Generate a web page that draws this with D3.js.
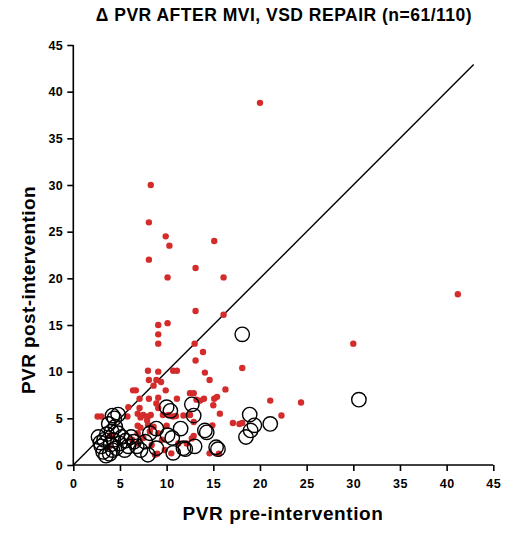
<!DOCTYPE html>
<html><head><meta charset="utf-8">
<script src="https://cdn.jsdelivr.net/npm/d3@7"></script>
<style>body{margin:0;background:#fff}svg{display:block}text{font-family:Arial,"Liberation Sans",sans-serif;font-weight:bold}</style>
</head><body>
<script>
const title = "\u0394 PVR AFTER MVI, VSD REPAIR (n=61/110)";
const xLabel = "PVR pre-intervention";
const yLabel = "PVR post-intervention";
const xTicks = [0,5,10,15,20,25,30,35,40,45];
const yTicks = [0,5,10,15,20,25,30,35,40,45];
const identityLine = [[0,0],[42.9,42.9]];
// MVI patients (red filled dots): [pre, post]
const mviPoints = [
[20.0,38.8],[8.3,30.0],[8.1,26.0],[9.9,24.5],[10.3,23.5],[15.1,24.0],[8.1,22.0],[13.1,21.1],[10.1,20.1],[16.1,20.1],
[41.2,18.3],[13.1,16.5],[16.1,16.1],[10.1,15.2],[9.1,15.0],[9.1,14.0],[9.1,13.0],[13.0,13.0],[30.0,13.0],[13.9,12.1],
[13.1,11.2],[18.1,10.4],[8.0,10.1],[9.1,10.0],[10.7,10.1],[11.1,10.1],[14.1,9.9],[14.6,9.1],[8.1,9.1],[8.9,9.1],
[9.4,8.9],[8.6,8.5],[16.3,8.1],[6.4,8.0],[6.7,8.0],[9.9,8.0],[12.5,7.7],[12.9,7.7],[7.1,7.1],[8.1,7.1],
[9.1,7.2],[11.1,7.1],[13.2,7.0],[13.6,6.9],[14.0,7.1],[15.1,7.1],[15.4,7.3],[21.1,6.9],[24.4,6.7],[15.0,6.4],
[5.9,6.2],[7.1,6.1],[8.9,6.6],[9.1,6.1],[2.6,5.2],[3.0,5.2],[5.8,5.2],[6.9,5.5],[7.2,5.1],[7.5,5.35],[8.0,5.2],
[8.3,5.35],[9.6,5.35],[10.2,5.35],[10.7,5.2],[11.0,5.25],[11.8,5.3],[12.5,5.35],[15.7,5.5],[22.3,5.3],
[7.9,4.8],[12.9,4.6],[6.9,4.2],[7.2,4.0],[8.0,4.3],[8.6,4.1],[10.0,4.2],[14.9,4.25],[17.1,4.5],[17.8,4.4],[18.1,4.5],
[6.9,3.4],[8.2,3.6],[9.1,3.4],[4.0,3.2],[12.9,3.1],[7.5,2.9],[12.7,2.85],[9.5,2.7],
[3.9,2.0],[6.3,2.7],[6.9,2.3],[8.4,2.15],[11.25,2.3],[12.15,2.3],[9.8,1.6],
[8.75,1.1],[9.0,1.2],[10.5,1.25],[14.6,1.25],[15.6,1.2]
];
// VSD patients (open circles): [pre, post]
const vsdPoints = [
[18.1,14.0],[30.6,7.0],[12.7,6.5],[10.0,6.2],[10.4,5.8],[12.9,5.3],[18.9,5.4],[19.4,4.25],[21.1,4.4],[19.0,3.7],
[18.5,3.0],[14.1,3.7],[14.3,3.5],[11.5,3.9],[13.0,2.0],[12.0,1.7],[15.3,1.9],[15.5,1.7],[4.2,5.3],[4.8,5.4],
[4.4,5.0],[4.5,4.1],[4.1,3.6],[2.7,3.0],[3.3,2.7],[3.0,2.0],[3.2,1.4],[3.9,1.2],[4.6,1.8],[5.0,2.3],
[4.3,2.7],[5.2,3.0],[5.9,2.0],[6.2,3.0],[6.8,2.0],[7.2,1.6],[8.0,1.1],[8.2,3.4],[8.9,3.9],[10.1,3.2],
[10.6,2.9],[10.7,1.3],[11.8,1.8],[8.9,1.8],[7.7,2.5],[3.6,3.3],[4.0,2.2],[5.5,1.6],[6.5,2.5],[3.5,1.0],
[4.8,3.4],[5.6,2.6],[3.8,4.4],[2.9,2.4],[4.2,1.6]
];

const W = 505, H = 536;
const svg = d3.select("body").append("svg").attr("width", W).attr("height", H);
const x = d3.scaleLinear().domain([0,45]).range([73.3,493.3]);
const y = d3.scaleLinear().domain([0,45]).range([465,45]);

svg.append("text").attr("x", 284).attr("y", 21).attr("text-anchor","middle")
  .style("font-size","17.5px").style("letter-spacing","0.5px").text(title);

const xa = svg.append("g").attr("transform",`translate(0,${y(0)})`)
  .call(d3.axisBottom(x).tickValues(xTicks).tickSize(6).tickPadding(4).tickFormat(d3.format("d")));
const ya = svg.append("g").attr("transform",`translate(${x(0)},0)`)
  .call(d3.axisLeft(y).tickValues(yTicks).tickSize(6).tickPadding(4).tickFormat(d3.format("d")));
[xa,ya].forEach(a=>{
  a.select(".domain").attr("stroke","#000").attr("stroke-width",1.6);
  a.selectAll(".tick line").attr("stroke","#000").attr("stroke-width",1.6);
  a.selectAll(".tick text").attr("fill","#000").style("font-size","12.5px").style("font-family","Arial,'Liberation Sans',sans-serif").style("font-weight","bold").style("letter-spacing","0.5px");
});
xa.selectAll(".tick text").attr("dy","1em");
xa.select(".domain").attr("d", `M${x(0)},0H${x(45)}`);
ya.select(".domain").attr("d", `M0,${y(45)}V${y(0)}`);

svg.append("line")
  .attr("x1", x(identityLine[0][0])).attr("y1", y(identityLine[0][1]))
  .attr("x2", x(identityLine[1][0])).attr("y2", y(identityLine[1][1]))
  .attr("stroke","#000").attr("stroke-width",1.4);

svg.append("g").selectAll("circle").data(mviPoints).join("circle")
  .attr("cx", d=>x(d[0])).attr("cy", d=>y(d[1])).attr("r", 3.2)
  .attr("fill", "#d42b2b");

svg.append("g").selectAll("circle").data(vsdPoints).join("circle")
  .attr("cx", d=>x(d[0])).attr("cy", d=>y(d[1])).attr("r", 7.2)
  .attr("fill", "none").attr("stroke","#000").attr("stroke-width",1.4);

svg.append("text").attr("x", 283).attr("y", 520).attr("text-anchor","middle")
  .style("font-size","19px").style("letter-spacing","0.6px").text(xLabel);
svg.append("text").attr("transform","translate(35,290) rotate(-90)").attr("text-anchor","middle")
  .style("font-size","19px").style("letter-spacing","0.4px").text(yLabel);
</script>
</body></html>
